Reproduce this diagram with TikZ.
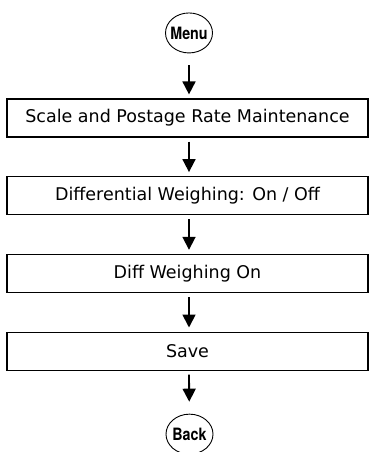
\documentclass[tikz,border=0pt]{standalone}
\usepackage{fontspec}
\setmainfont{DejaVu Sans}
\newfontfamily\condfont[FakeStretch=0.84]{TeX Gyre Heros}
\usetikzlibrary{arrows.meta,positioning,shapes.geometric}

\begin{document}
\begin{tikzpicture}[
    x=1pt, y=-1pt,
    font=\fontsize{17.5}{20}\selectfont,
    >={Triangle[width=13pt,length=13pt]},
    stepbox/.style={draw, line width=1.2pt, minimum width=361pt, minimum height=38pt, inner sep=0pt},
    oval/.style={draw, ellipse, line width=0.9pt, minimum width=47pt, minimum height=40pt, inner xsep=-5pt, inner ysep=0pt, font=\condfont\bfseries\fontsize{17}{18}\selectfont},
    arr/.style={->, line width=1.8pt, shorten <=4pt, shorten >=4pt}
]
    \useasboundingbox (0,0) rectangle (369,452);
    \node[stepbox] (scale) at (187.5,118) {Scale and Postage Rate Maintenance};
    \node[stepbox, below=38.5pt of scale] (diff) {Differential Weighing: On / Off};
    \node[stepbox, below=38.5pt of diff] (diffon) {Diff Weighing On};
    \node[stepbox, below=38.5pt of diffon] (save) {Save};
    \node[oval, above=45pt of scale, xshift=1.5pt] (menu) {Menu};
    \node[oval, below=43pt of save, xshift=2pt] (back) {Back};

    \draw[arr, shorten <=12pt] (menu) -- (scale.north -| menu);
    \draw[arr] (scale.south -| menu) -- (diff.north -| menu);
    \draw[arr] (diff.south -| menu) -- (diffon.north -| menu);
    \draw[arr] (diffon.south -| menu) -- (save.north -| menu);
    \draw[arr, shorten >=12pt] (save.south -| menu) -- (back);
\end{tikzpicture}
\end{document}
